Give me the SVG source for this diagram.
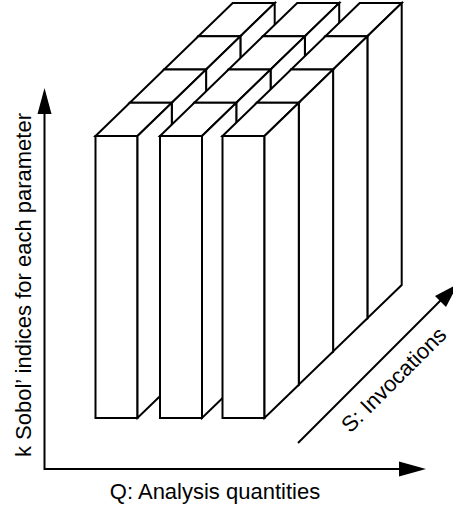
<svg xmlns="http://www.w3.org/2000/svg" xmlns:xlink="http://www.w3.org/1999/xlink" width="453" height="508" viewBox="0 0 453 508">
  <style>
    .face { fill: #ffffff; stroke: #000000; stroke-width: 2; stroke-linejoin: miter; }
    .axis { fill: none; stroke: #000000; stroke-width: 2; }
    .head { fill: #000000; stroke: none; }
    .lbl { font-family: "Liberation Sans", Arial, sans-serif; font-size: 22px; fill: #000000; }
  </style>
  <defs>
    <g id="box">
      <path class="face" d="M0,0 h42 v282 h-42 z"/>
      <path class="face" d="M0,0 h42 l34.3,-33.25 h-42 z"/>
      <path class="face" d="M42,0 l34.3,-33.25 v282 l-34.3,33.25 z"/>
    </g>
  </defs>
  <rect width="453" height="508" fill="#ffffff"/>

  <!-- boxes, back to front -->
  <g id="box-q1-s4"><use xlink:href="#box" href="#box" x="198.4" y="36.25"/></g>
  <g id="box-q2-s4"><use xlink:href="#box" href="#box" x="262.9" y="36.25"/></g>
  <g id="box-q3-s4"><use xlink:href="#box" href="#box" x="325.4" y="36.25"/></g>
  <g id="box-q1-s3"><use xlink:href="#box" href="#box" x="164.1" y="69.5"/></g>
  <g id="box-q2-s3"><use xlink:href="#box" href="#box" x="228.6" y="69.5"/></g>
  <g id="box-q3-s3"><use xlink:href="#box" href="#box" x="291.1" y="69.5"/></g>
  <g id="box-q1-s2"><use xlink:href="#box" href="#box" x="129.8" y="102.75"/></g>
  <g id="box-q2-s2"><use xlink:href="#box" href="#box" x="194.3" y="102.75"/></g>
  <g id="box-q3-s2"><use xlink:href="#box" href="#box" x="256.8" y="102.75"/></g>
  <g id="box-q1-s1"><use xlink:href="#box" href="#box" x="95.5" y="136"/></g>
  <g id="box-q2-s1"><use xlink:href="#box" href="#box" x="160" y="136"/></g>
  <g id="box-q3-s1"><use xlink:href="#box" href="#box" x="222.5" y="136"/></g>

  <!-- axes -->
  <g id="connectors">
    <polyline class="axis" points="44.5,112 44.5,469 400,469"/>
    <polygon class="head" points="44.5,88 51.5,114 37.5,114"/>
    <polygon class="head" points="426,469 399,461.5 399,476.5"/>
    <line class="axis" x1="298" y1="443" x2="442" y2="299"/>
    <polygon class="head" points="458,284 446,307 435,296"/>
  </g>

  <g id="labels">
    <text class="lbl" x="215" y="499" text-anchor="middle">Q: Analysis quantities</text>
    <text class="lbl" x="31" y="285" text-anchor="middle" transform="rotate(-90 31 285)">k Sobol’ indices for each parameter</text>
    <text class="lbl" x="399" y="385" text-anchor="middle" transform="rotate(-45 399 385)">S: Invocations</text>
  </g>
</svg>
